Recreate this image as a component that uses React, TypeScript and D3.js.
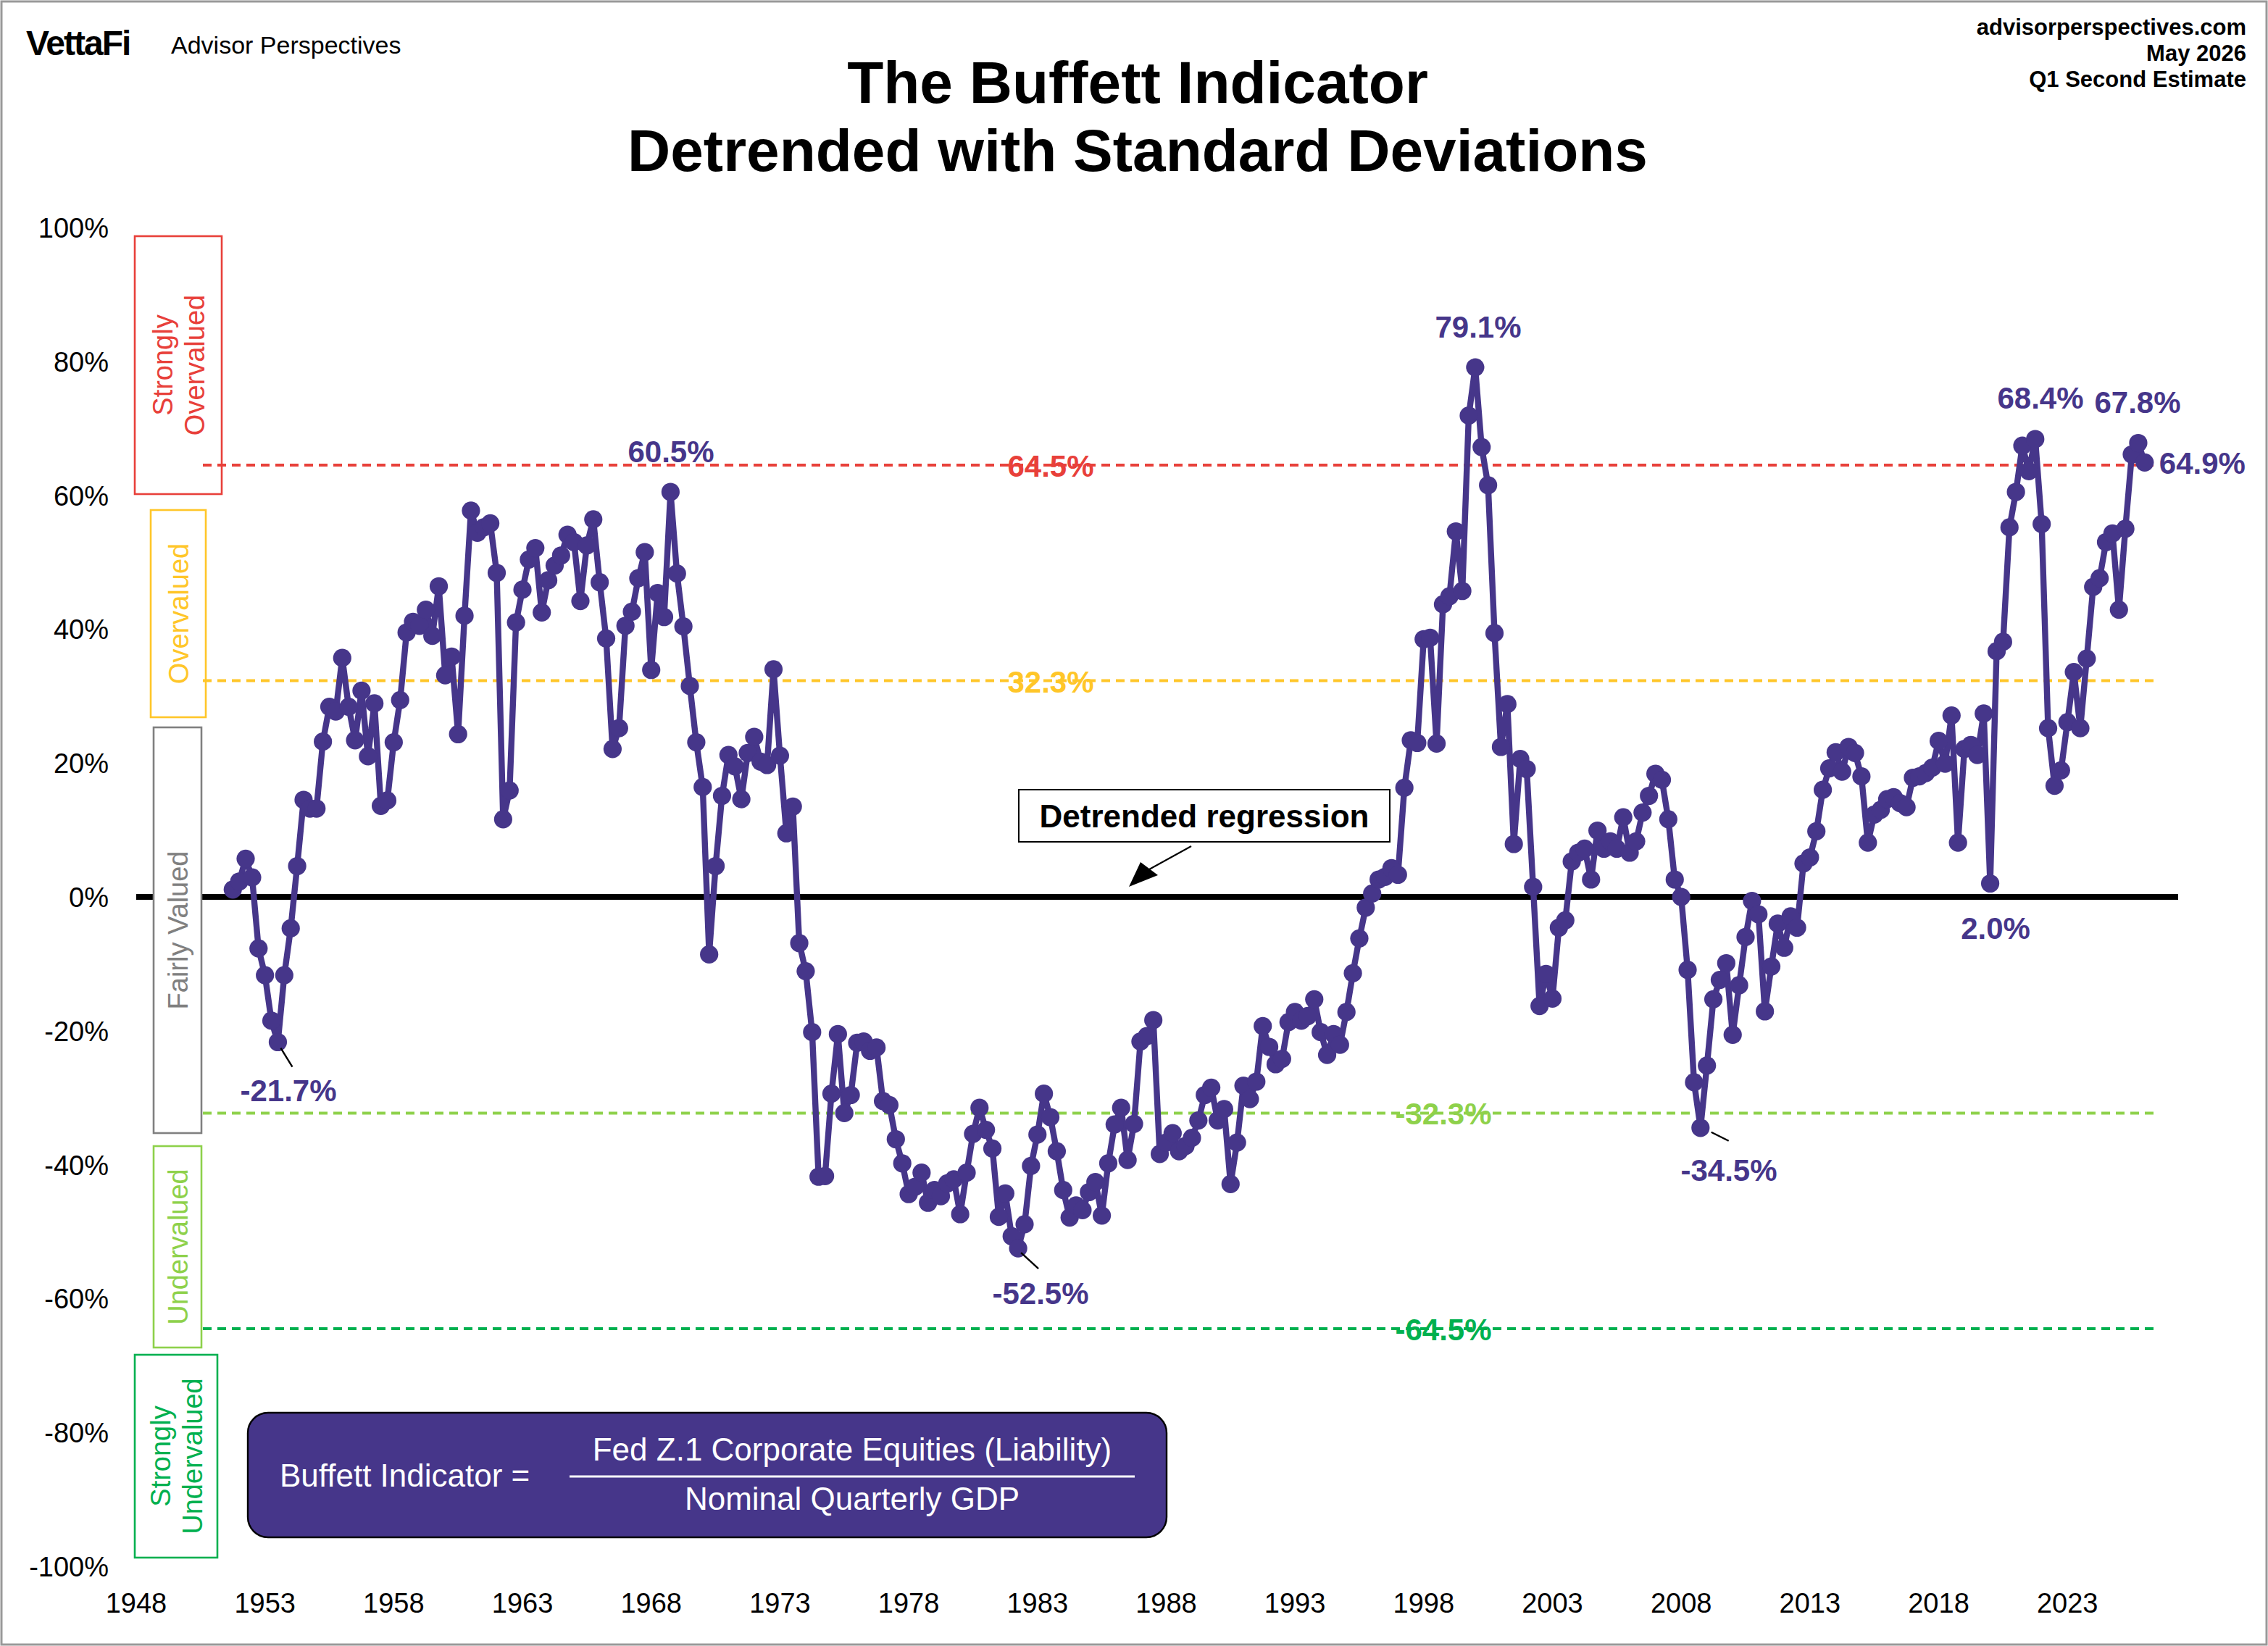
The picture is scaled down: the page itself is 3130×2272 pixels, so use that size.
import * as d3 from "d3";

// quarterly readings, detrended %, by segment start year
const seg1Start = 1951.75;
const seg1 = [1.1, 2.3, 5.7, 2.9, -7.7, -11.7, -18.5, -21.7, -11.7, -4.7, 4.6, 14.5, 13.2, 13.2, 23.2, 28.4, 27.7, 35.7, 28.4, 23.4, 30.8, 21.0, 28.9, 13.6, 14.4, 23.1, 29.4, 39.5, 41.1, 40.5, 42.9, 39.0, 46.4, 33.1, 35.9, 24.3, 42.0, 57.7, 54.4, 55.2, 55.8, 48.4, 11.6, 15.9, 41.0, 45.9, 50.4, 52.1, 42.5, 47.3, 49.5, 51.0, 54.1, 53.0, 44.2, 52.5, 56.4, 47.0, 38.6, 22.1, 25.2, 40.5, 42.6, 47.6, 51.5, 33.9, 45.4, 41.8, 60.5, 48.3, 40.4, 31.5, 23.1, 16.4, -8.6, 4.6, 15.1, 21.2];
const seg2Start = 1971.25;
const seg2 = [19.5, 14.6, 21.5, 23.9, 20.2, 19.7, 34.0, 21.1, 9.5, 13.5, -6.9, -11.1, -20.2, -41.8, -41.7, -29.4, -20.5, -32.3, -29.6, -21.8, -21.6, -23.0, -22.5, -30.5, -31.1, -36.2, -39.8, -44.4, -43.3, -41.2, -45.7, -43.8, -44.7, -42.8, -42.2, -47.4, -41.2, -35.4, -31.5, -34.8, -37.6, -47.8, -44.3, -50.7, -52.5, -48.9, -40.2, -35.5, -29.4, -32.9, -38.0, -43.8, -47.9, -46.1, -46.8, -44.1, -42.6, -47.6, -39.8, -34.0, -31.5, -39.3, -33.9, -21.6, -20.8, -18.4, -38.4, -36.7, -35.3, -38.0, -37.2, -36.0, -33.4, -29.6, -28.5, -33.4, -31.7, -42.9, -36.7, -28.2, -30.2, -27.6, -19.3, -22.4, -25.0, -24.2, -18.7, -17.2, -18.5, -17.8, -15.3, -20.2, -23.6, -20.5, -22.1, -17.2, -11.4, -6.2, -1.6, 0.5, 2.6];
const seg3Start = 1996.5;
const seg3 = [3.0, 4.3, 3.3, 16.3, 23.4, 23.0, 38.5, 38.7, 22.9, 43.7, 44.9, 54.6, 45.7, 71.9, 79.1, 67.2, 61.5, 39.4, 22.4, 28.8, 7.9, 20.6, 19.1, 1.5, -16.3, -11.5, -15.2, -4.6, -3.5, 5.3, 6.6, 7.2, 2.6, 9.9, 7.2, 8.3, 7.2, 11.9, 6.6, 8.3, 12.6, 15.1, 18.4, 17.5, 11.6, 2.6, 0.0, -10.9, -27.7, -34.5, -25.2, -15.3, -12.4, -9.9, -20.6, -13.2, -6.0, -0.6, -2.6, -17.1, -10.4, -4.0, -7.6, -2.9, -4.6, 5.0, 5.9, 9.8, 16.0, 19.2, 21.6];
const seg4Start = 2014.25;
const seg4 = [18.7, 22.4, 21.5, 18.0, 8.1, 12.3, 13.0, 14.6, 14.9, 14.0, 13.4, 17.8, 18.0, 18.5, 19.3, 23.3, 19.9, 27.1, 8.1, 22.1, 22.7, 21.2, 27.4, 2.0, 36.7, 38.1, 55.2, 60.5, 67.4, 63.6, 68.4, 55.7, 25.2, 16.6, 18.9, 26.1, 33.6, 25.2, 35.6, 46.3, 47.6, 53.0, 54.3, 42.9, 55.0, 66.1, 67.8, 64.9];

const yTicks = [100, 80, 60, 40, 20, 0, -20, -40, -60, -80, -100];
const xTicks = [1948, 1953, 1958, 1963, 1968, 1973, 1978, 1983, 1988, 1993, 1998, 2003, 2008, 2013, 2018, 2023];
const bands = [
  { value: 64.5, label: "64.5%", color: "#e8403a", lx: 725 },
  { value: 32.3, label: "32.3%", color: "#ffc629", lx: 725 },
  { value: -32.3, label: "-32.3%", color: "#8ed14b", lx: 996 },
  { value: -64.5, label: "-64.5%", color: "#00b04f", lx: 996 },
];
const callouts = [
  { text: "-21.7%", lx: 199, ly: 753 },
  { text: "60.5%", lx: 463, ly: 312 },
  { text: "-52.5%", lx: 718, ly: 893 },
  { text: "79.1%", lx: 1020, ly: 226 },
  { text: "-34.5%", lx: 1193, ly: 808 },
  { text: "2.0%", lx: 1377, ly: 641 },
  { text: "68.4%", lx: 1408, ly: 275 },
  { text: "67.8%", lx: 1475, ly: 278 },
];

const font = "'Liberation Sans', Arial, sans-serif";
const purple = "#46368a";

function build(start: number, vals: number[]) {
  return vals.map((v, i) => ({ year: start + i * 0.25, value: v }));
}

export default function App() {
  const data = [
    ...build(seg1Start, seg1),
    ...build(seg2Start, seg2),
    ...build(seg3Start, seg3),
    ...build(seg4Start, seg4),
  ];
  const x = d3.scaleLinear().domain([1948, 2027.3]).range([94, 1503]);
  const y = d3.scaleLinear().domain([-100, 100]).range([1081, 157]);
  const line = d3
    .line<{ year: number; value: number }>()
    .x((d) => x(d.year))
    .y((d) => y(d.value));
  const last = data[data.length - 1];

  return (
    <svg
      width={3130}
      height={2272}
      viewBox="0 0 1565 1136"
      style={{ position: "absolute", left: 0, top: 0, background: "#fff" }}
      fontFamily={font}
    >
      <rect x={1} y={1} width={1563} height={1134} fill="#fff" stroke="#999" strokeWidth={1.5} />
      {/* header */}
      <text x={18} y={38} fontSize={24} fontWeight="bold" letterSpacing={-1}>VettaFi</text>
      <text x={118} y={37} fontSize={17}>Advisor Perspectives</text>
      <text x={1550} y={24} fontSize={15.5} fontWeight="bold" textAnchor="end">advisorperspectives.com</text>
      <text x={1550} y={42} fontSize={15.5} fontWeight="bold" textAnchor="end">May 2026</text>
      <text x={1550} y={60} fontSize={15.5} fontWeight="bold" textAnchor="end">Q1 Second Estimate</text>
      <text x={785} y={71} fontSize={41} fontWeight="bold" textAnchor="middle">The Buffett Indicator</text>
      <text x={785} y={118} fontSize={41} fontWeight="bold" textAnchor="middle">Detrended with Standard Deviations</text>

      {/* axes labels */}
      {yTicks.map((t) => (
        <text key={t} x={75} y={y(t) + 7} fontSize={19} textAnchor="end">{t}%</text>
      ))}
      {xTicks.map((t) => (
        <text key={t} x={x(t)} y={1113} fontSize={19} textAnchor="middle">{t}</text>
      ))}

      <line x1={94} x2={1503} y1={y(0)} y2={y(0)} stroke="#000" strokeWidth={4} />

      {/* valuation zones */}
      {[
        { y0: 163, y1: 341, x0: 93, x1: 153, c: "#e8403a", lines: ["Strongly", "Overvalued"] },
        { y0: 352, y1: 495, x0: 104, x1: 142, c: "#ffc629", lines: ["Overvalued"] },
        { y0: 502, y1: 782, x0: 106, x1: 139, c: "#808080", lines: ["Fairly Valued"] },
        { y0: 791, y1: 930, x0: 106, x1: 139, c: "#8ed14b", lines: ["Undervalued"] },
        { y0: 935, y1: 1075, x0: 93, x1: 150, c: "#00b04f", lines: ["Strongly", "Undervalued"] },
      ].map((b, i) => {
        const cx = (b.x0 + b.x1) / 2;
        const cy = (b.y0 + b.y1) / 2;
        return (
          <g key={i}>
            <rect x={b.x0} y={b.y0} width={b.x1 - b.x0} height={b.y1 - b.y0} fill="#fff" stroke={b.c} strokeWidth={1.3} />
            <text transform={`translate(${cx},${cy}) rotate(-90)`} fontSize={19} fill={b.c} textAnchor="middle">
              {b.lines.map((l, j) => (
                <tspan key={j} x={0} y={(j - (b.lines.length - 1) / 2) * 22 + 7}>{l}</tspan>
              ))}
            </text>
          </g>
        );
      })}

      {/* standard deviation lines */}
      {bands.map((b) => (
        <line key={b.label} x1={140} x2={1487} y1={y(b.value)} y2={y(b.value)} stroke={b.color} strokeWidth={2} strokeDasharray="6,4" />
      ))}

      {/* regression label */}
      <rect x={703} y={545} width={256} height={36} fill="#fff" stroke="#000" strokeWidth={1} />
      <text x={831} y={571} fontSize={22} fontWeight="bold" textAnchor="middle">Detrended regression</text>
      <line x1={822} y1={584} x2={793} y2={600} stroke="#000" strokeWidth={1} />
      <path d="M779,612 L787,595 L799,604 Z" fill="#000" />

      {/* series */}
      <path d={line(data) ?? ""} fill="none" stroke={purple} strokeWidth={4.2} strokeLinejoin="round" />
      {data.map((d, i) => (
        <circle key={i} cx={x(d.year)} cy={y(d.value)} r={6.3} fill={purple} />
      ))}

      {bands.map((b) => (
        <text key={b.label} x={b.lx} y={y(b.value) + 8} fontSize={21} fontWeight="bold" fill={b.color} textAnchor="middle">{b.label}</text>
      ))}

      {/* callouts */}
      {callouts.map((c) => (
        <text key={c.text} x={c.lx} y={c.ly + 7} fontSize={21} fontWeight="bold" fill={purple} textAnchor="middle">{c.text}</text>
      ))}
      <line x1={x(1953.5) + 2} y1={y(-21.7) + 4} x2={x(1953.5) + 10} y2={y(-21.7) + 17} stroke="#000" strokeWidth={1.2} />
      <line x1={x(1982.25) + 2} y1={y(-52.5) + 3} x2={x(1982.25) + 14} y2={y(-52.5) + 14} stroke="#000" strokeWidth={1.2} />
      <line x1={x(2009.0) + 3} y1={y(-34.5) + 3} x2={x(2009.0) + 15} y2={y(-34.5) + 9} stroke="#000" strokeWidth={1.2} />
      <text x={x(last.year) + 10} y={y(last.value) + 8} fontSize={21} fontWeight="bold" fill={purple}>{last.value.toFixed(1)}%</text>

      {/* formula */}
      <rect x={171} y={975} width={634} height={86} rx={14} fill={purple} stroke="#000" strokeWidth={1.2} />
      <text x={193} y={1026} fontSize={22} fill="#fff">Buffett Indicator =</text>
      <line x1={393} x2={783} y1={1019} y2={1019} stroke="#fff" strokeWidth={1.5} />
      <text x={588} y={1008} fontSize={22} fill="#fff" textAnchor="middle">Fed Z.1 Corporate Equities (Liability)</text>
      <text x={588} y={1042} fontSize={22} fill="#fff" textAnchor="middle">Nominal Quarterly GDP</text>
    </svg>
  );
}
